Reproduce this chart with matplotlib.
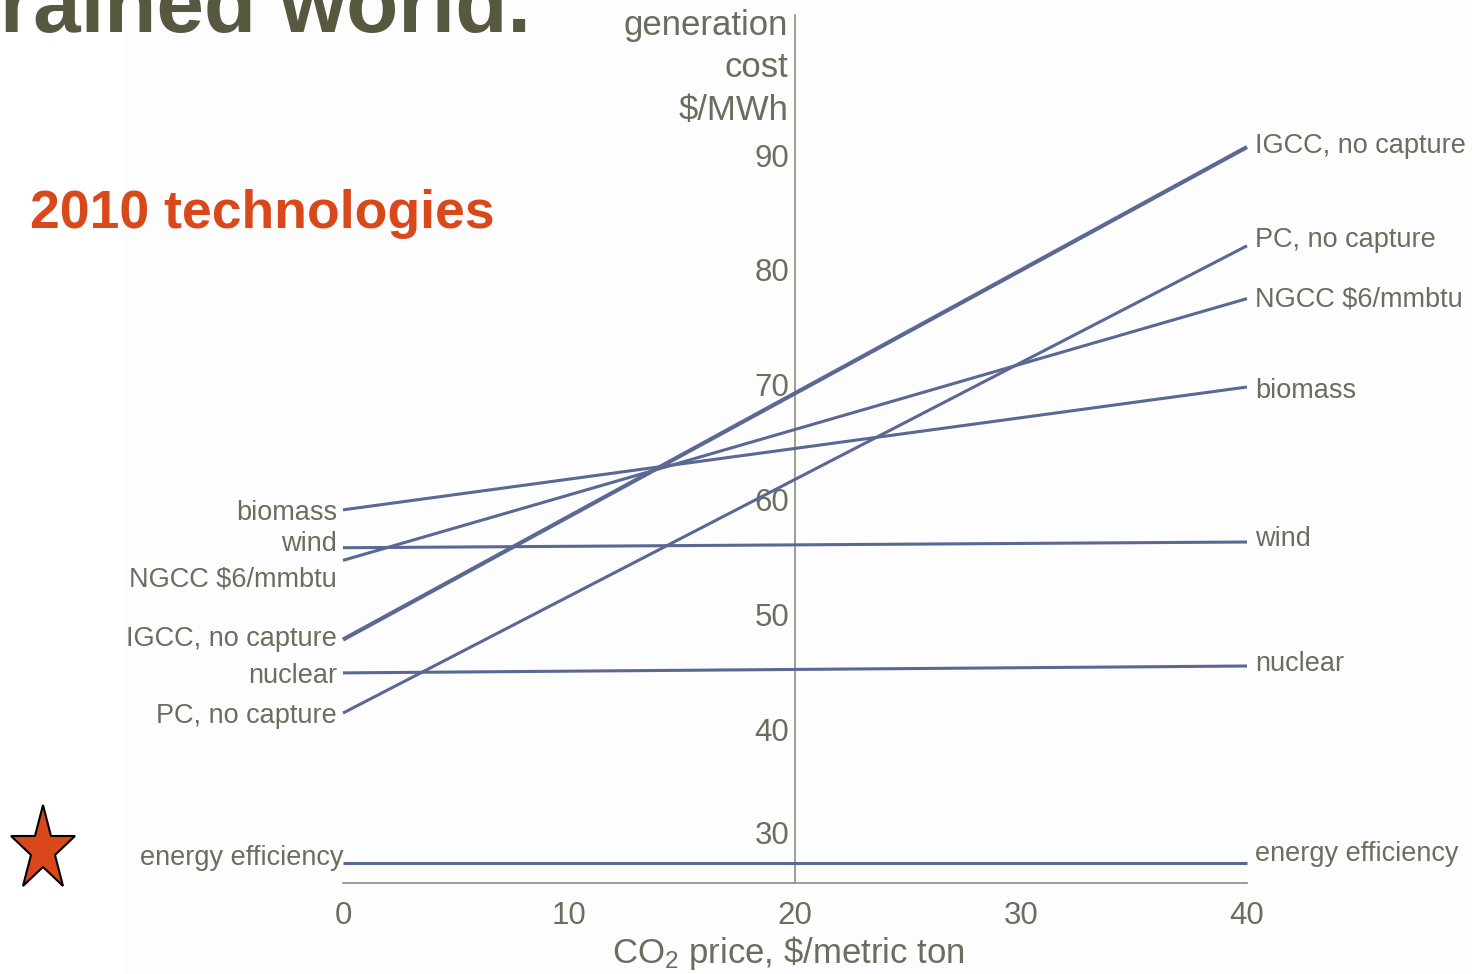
import matplotlib
matplotlib.use("Agg")
import matplotlib.pyplot as plt
from matplotlib.markers import MarkerStyle
from matplotlib.transforms import Affine2D

plt.rcParams['font.family'] = ['Liberation Sans', 'DejaVu Sans']
plt.rcParams['mathtext.fontset'] = 'custom'
plt.rcParams['mathtext.rm'] = 'Liberation Sans'
plt.rcParams['mathtext.it'] = 'Liberation Sans:italic'

# generation cost ($/MWh) at a CO2 price of 0 and of 40 $/metric ton
technologies = ["IGCC, no capture", "PC, no capture", "NGCC $6/mmbtu", "biomass",
                "wind", "nuclear", "energy efficiency"]
cost_at_0 = [47.8, 41.4, 54.7, 59.1, 55.8, 44.9, 28.3]
cost_at_40 = [90.7, 82.1, 77.5, 69.8, 56.3, 45.5, 28.3]
co2_price = [0, 40]
x_ticks = [0, 10, 20, 30, 40]
y_ticks = [40, 50, 60, 70, 80, 90]
low_tick = 30  # drawn on its own, a bit higher, clear of the efficiency line

# label nudges in pixels (baseline below the line end)
left_nudge = [6, 10, 26, 10, 3, 10, 2]
right_nudge = [6, 1, 8, 11, 4, 5, -2]

TEXT = '#6a6e5f'
AXIS = '#8b8e82'
LINE = '#5a6893'
ORANGE = '#d9481a'
PX = 0.72  # points per pixel at dpi 100

fig = plt.figure(figsize=(14.72, 9.74), dpi=100)

# background layer in pixel coordinates for the slide decorations
bg = fig.add_axes([0, 0, 1, 1])
bg.set_xlim(0, 1472)
bg.set_ylim(974, 0)
bg.axis('off')
bg.axvspan(123, 1472, color='#fdfdfd', lw=0)
star = MarkerStyle('*', transform=Affine2D().scale(1, 1.31))
bg.plot([43], [850], marker=star, ms=49, mfc=ORANGE, mec='black', mew=1.5, ls='none')

fig.text(0, 1 - 32 / 974, 'rained world.', fontsize=61.5, fontweight='bold',
         color='#58573f', ha='left', va='baseline')
fig.text(30 / 1472, 1 - 228 / 974, '2010 technologies', fontsize=38.5, fontweight='bold',
         color=ORANGE, ha='left', va='baseline')

ax = fig.add_axes([343 / 1472, 91 / 974, 904 / 1472, 868 / 974])
ax.patch.set_alpha(0)
ax.set_xlim(0, 40)
ax.set_ylim(26.6, 102.2)

for i, name in enumerate(technologies):
    lw = 3.0 if i == 0 else 2.2
    ax.plot(co2_price, [cost_at_0[i], cost_at_40[i]], color=LINE, lw=lw,
            solid_capstyle='butt', clip_on=False, zorder=3)
    dx = 0 if name == "energy efficiency" else -6
    ax.annotate(name, xy=(0, cost_at_0[i]), xytext=(dx * PX, -left_nudge[i] * PX),
                textcoords='offset points', ha='right', va='baseline',
                fontsize=19.5, color=TEXT, annotation_clip=False)
    ax.annotate(name, xy=(40, cost_at_40[i]), xytext=(8 * PX, -right_nudge[i] * PX),
                textcoords='offset points', ha='left', va='baseline',
                fontsize=19.5, color=TEXT, annotation_clip=False)

for side in ['top', 'right']:
    ax.spines[side].set_visible(False)
ax.spines['left'].set_position(('data', 20))
ax.spines['left'].set_color(AXIS)
ax.spines['bottom'].set_color(AXIS)
ax.spines['left'].set_linewidth(1.2)
ax.spines['bottom'].set_linewidth(1.2)

ax.set_xticks(x_ticks)
ax.set_yticks(y_ticks)
ax.tick_params(axis='both', length=0, labelsize=22.5, labelcolor=TEXT)
ax.tick_params(axis='x', pad=13)
ax.tick_params(axis='y', pad=4)

ax.annotate(str(low_tick), xy=(20, low_tick), xytext=(-4, 11 * PX),
            textcoords='offset points', ha='right', va='center_baseline',
            fontsize=22.5, color=TEXT)

ax.set_xlabel('CO$_2$ price, \\$/metric ton', fontsize=25, color=TEXT)
ax.xaxis.set_label_coords((788 - 343) / 904, -(934 - 883) / 868)

for line, base in zip(['generation', 'cost', '$/MWh'], [35, 77, 120]):
    fig.text(788 / 1472, 1 - base / 974, line, fontsize=25, color=TEXT,
             ha='right', va='baseline')

fig.savefig('out.png', dpi=100)
